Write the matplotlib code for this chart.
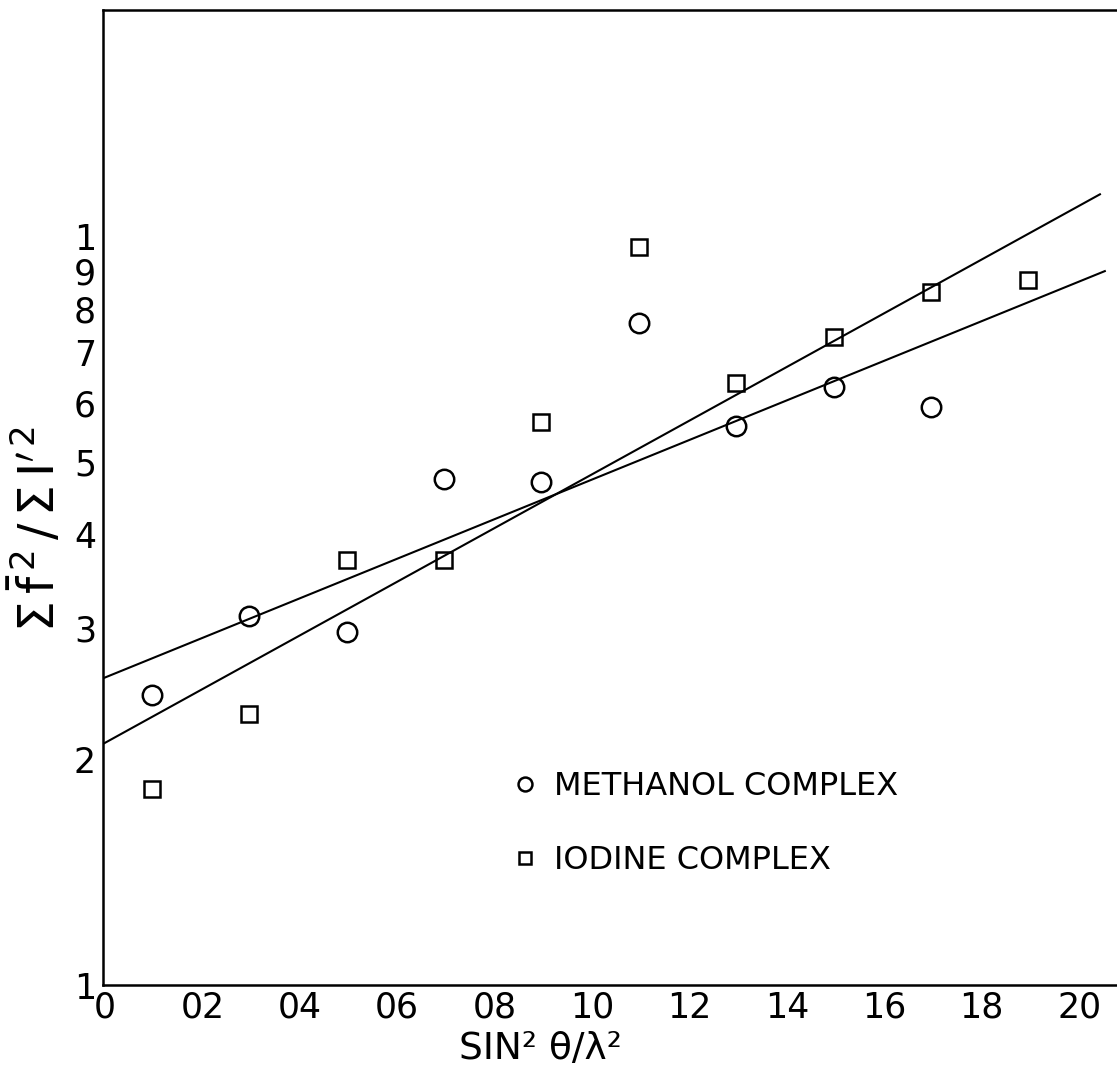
import numpy as np
import matplotlib
matplotlib.use('Agg')
import matplotlib.pyplot as plt
from matplotlib.lines import Line2D
from matplotlib.transforms import ScaledTranslation

x_pts = [0.01, 0.03, 0.05, 0.07, 0.09, 0.11, 0.13, 0.15, 0.17, 0.19]
methanol = [2.44, 3.11, 2.96, 4.75, 4.70, 7.67, 5.59, 6.30, 5.93]
iodine = [1.83, 2.30, 3.70, 3.70, 5.66, 9.70, 6.38, 7.35, 8.44, 8.76]

methanol_fit_x = [0.0, 0.2057]
methanol_fit_y = [2.57, 9.0]
iodine_fit_x = [0.0, 0.2047]
iodine_fit_y = [2.10, 11.4]

xticks = [0.0, 0.02, 0.04, 0.06, 0.08, 0.10, 0.12, 0.14, 0.16, 0.18, 0.20]
xtick_labels = ['0', '02', '04', '06', '08', '10', '12', '14', '16', '18', '20']
yticks = [1, 2, 3, 4, 5, 6, 7, 8, 9, 10]
ytick_labels = ['1', '2', '3', '4', '5', '6', '7', '8', '9', '1']

LineWidth = 1.5

fig = plt.figure(figsize=(11.17, 10.81), dpi=100)
ax = fig.add_axes([0.0922, 0.0888, 0.9078, 0.9019])

ax.plot(methanol_fit_x, methanol_fit_y, '-', color='black', lw=LineWidth)
ax.plot(iodine_fit_x, iodine_fit_y, '-', color='black', lw=LineWidth)
ax.plot(x_pts[:len(methanol)], methanol, 'o', color='black', mfc='none', ms=14, mew=1.8)
ax.plot(x_pts, iodine, 's', color='black', mfc='none', ms=11, mew=1.8)

ax.set_yscale('log')
ax.set_xlim(0, 0.2082)
ax.set_ylim(1, 20.1)

ax.set_xticks(xticks)
ax.set_xticklabels(xtick_labels)
ax.set_yticks(yticks)
ax.set_yticklabels(ytick_labels)
ax.yaxis.set_minor_locator(matplotlib.ticker.NullLocator())
ax.tick_params(axis='both', length=0, labelsize=25)
ax.tick_params(axis='x', pad=4)
ax.tick_params(axis='y', pad=5)
for lbl in ax.get_xticklabels():
    lbl.set_transform(lbl.get_transform() + ScaledTranslation(0.02, 0, fig.dpi_scale_trans))

for side in ['left', 'top', 'bottom']:
    ax.spines[side].set_linewidth(1.8)
ax.spines['right'].set_visible(False)

ax.set_xlabel('SIN² θ/λ²', fontsize=27)
ax.xaxis.set_label_coords(0.431, -0.047)
ax.set_ylabel(r'$\Sigma\,\bar{\mathrm{f}}^{\,2}\,/\,\Sigma\,\mathrm{I}^{\prime\,2}$', fontsize=35)
ax.yaxis.label.set(ha='center', va='center')
ax.yaxis.set_label_coords(-0.066, 0.467)

handles = [Line2D([], [], ls='none', marker='o', color='black', mfc='none', ms=10, mew=1.8),
           Line2D([], [], ls='none', marker='s', color='black', mfc='none', ms=8, mew=1.8)]
ax.legend(handles, ['METHANOL COMPLEX', 'IODINE COMPLEX'], loc='upper left',
          bbox_to_anchor=(0.388, 0.236), frameon=False, fontsize=23,
          handlelength=0.8, handletextpad=0.5, labelspacing=1.35, borderpad=0)

plt.savefig('out.png', format='png')
